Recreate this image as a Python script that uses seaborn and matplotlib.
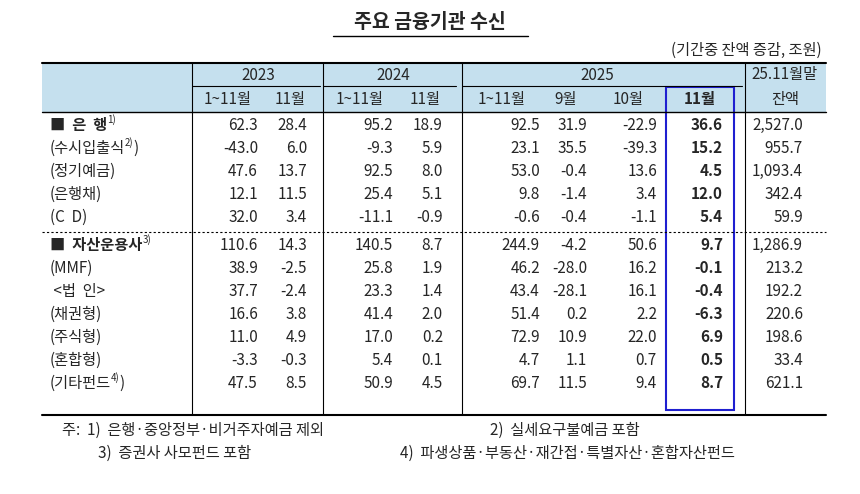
import matplotlib
matplotlib.use("Agg")
import matplotlib.pyplot as plt
import seaborn as sns
from matplotlib.patches import Rectangle

sns.set_theme(style="white")
plt.rcParams['font.family'] = ['Noto Sans CJK KR', 'DejaVu Sans']

rows = ["■  은  행", "(수시입출식", "(정기예금)", "(은행채)", "(C  D)",
        "■  자산운용사", "(MMF)", " <법  인>", "(채권형)", "(주식형)", "(혼합형)", "(기타펀드"]
sups = ["1)", "2)", "", "", "", "3)", "", "", "", "", "", "4)"]
tails = ["", ")", "", "", "", "", "", "", "", "", "", ")"]
y2023_ytd = [62.3, -43.0, 47.6, 12.1, 32.0, 110.6, 38.9, 37.7, 16.6, 11.0, -3.3, 47.5]
y2023_nov = [28.4, 6.0, 13.7, 11.5, 3.4, 14.3, -2.5, -2.4, 3.8, 4.9, -0.3, 8.5]
y2024_ytd = [95.2, -9.3, 92.5, 25.4, -11.1, 140.5, 25.8, 23.3, 41.4, 17.0, 5.4, 50.9]
y2024_nov = [18.9, 5.9, 8.0, 5.1, -0.9, 8.7, 1.9, 1.4, 2.0, 0.2, 0.1, 4.5]
y2025_ytd = [92.5, 23.1, 53.0, 9.8, -0.6, 244.9, 46.2, 43.4, 51.4, 72.9, 4.7, 69.7]
y2025_sep = [31.9, 35.5, -0.4, -1.4, -0.4, -4.2, -28.0, -28.1, 0.2, 10.9, 1.1, 11.5]
y2025_oct = [-22.9, -39.3, 13.6, 3.4, -1.1, 50.6, 16.2, 16.1, 2.2, 22.0, 0.7, 9.4]
y2025_nov = [36.6, 15.2, 4.5, 12.0, 5.4, 9.7, -0.1, -0.4, -6.3, 6.9, 0.5, 8.7]
balance = [2527.0, 955.7, 1093.4, 342.4, 59.9, 1286.9, 213.2, 192.2, 220.6, 198.6, 33.4, 621.1]

fig = plt.figure(figsize=(8.6, 4.94), dpi=100)
ax = fig.add_axes([0, 0, 1, 1])
ax.set_xlim(0, 860); ax.set_ylim(494, 0); ax.axis("off")
fs = 11
ax.text(430, 22, "주요 금융기관 수신", ha="center", va="center", fontsize=14, fontweight="bold")
ax.plot([333, 528], [36, 36], color="black", lw=1)
ax.text(822, 50, "(기간중 잔액 증감, 조원)", ha="right", va="center", fontsize=fs)

ax.add_patch(Rectangle((42, 63), 784, 49, color="#c5e0ee", lw=0))
ax.plot([42, 826], [63, 63], color="black", lw=1.5)
ax.plot([42, 826], [112, 112], color="black", lw=1)
for x0, x1 in [(192, 320), (323, 456), (462, 742)]:
    ax.plot([x0, x1], [86, 86], color="black", lw=0.8)
for x in [192, 323, 462, 745]:
    ax.plot([x, x], [63, 415], color="black", lw=0.8)
hdr = [("2023", 258), ("2024", 393), ("2025", 597), ("25.11월말", 785)]
for t, x in hdr:
    ax.text(x, 75, t, ha="center", va="center", fontsize=fs)
sub = [("1~11월", 228), ("11월", 290), ("1~11월", 360), ("11월", 425), ("1~11월", 502),
       ("9월", 566), ("10월", 628), ("11월", 700), ("잔액", 785)]
for t, x in sub:
    ax.text(x, 99, t, ha="center", va="center", fontsize=fs,
            fontweight="bold" if x == 700 else "normal")

ys = [125, 148, 171, 194, 217, 245, 268, 291, 314, 337, 360, 383]
cols = [(y2023_ytd, 258), (y2023_nov, 307), (y2024_ytd, 393), (y2024_nov, 443),
        (y2025_ytd, 540), (y2025_sep, 587), (y2025_oct, 657), (y2025_nov, 723), (balance, 803)]
fig.canvas.draw()
for i, y in enumerate(ys):
    bold = i in (0, 5)
    lbl = ax.text(50, y, rows[i], ha="left", va="center", fontsize=fs,
                  fontweight="bold" if bold else "normal")
    if sups[i]:
        bb = lbl.get_window_extent(renderer=fig.canvas.get_renderer())
        xd = ax.transData.inverted().transform((bb.x1, bb.y1))
        ax.text(xd[0], xd[1] + 3, sups[i], ha="left", va="center", fontsize=7)
        if tails[i]:
            ax.text(xd[0] + 8, y, tails[i], ha="left", va="center", fontsize=fs)
    for arr, xr in cols:
        s = f"{arr[i]:,.1f}"
        ax.text(xr, y, s, ha="right", va="center", fontsize=fs,
                fontweight="bold" if xr == 723 else "normal")
ax.plot([42, 826], [232, 232], color="black", lw=0.8, ls=(0, (2, 2)))
ax.plot([42, 826], [415, 415], color="black", lw=1.5)
ax.add_patch(Rectangle((666, 87), 68, 323, fill=False, ec="#1f1fd0", lw=1.5))

ax.text(62, 430, "주:  1)  은행·중앙정부·비거주자예금 제외", ha="left", va="center", fontsize=fs)
ax.text(490, 430, "2)  실세요구불예금 포함", ha="left", va="center", fontsize=fs)
ax.text(98, 453, "3)  증권사 사모펀드 포함", ha="left", va="center", fontsize=fs)
ax.text(400, 453, "4)  파생상품·부동산·재간접·특별자산·혼합자산펀드", ha="left", va="center", fontsize=fs)

fig.savefig("out.png", dpi=100)
